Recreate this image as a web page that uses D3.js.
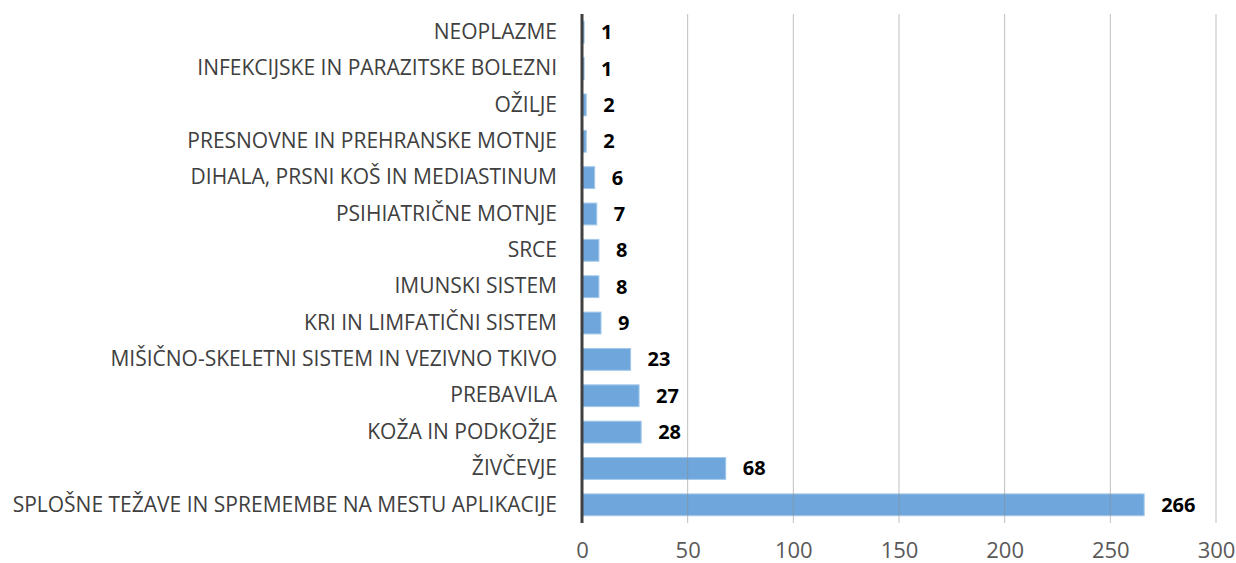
<!DOCTYPE html>
<html>
<head>
<meta charset="utf-8">
<script src="https://cdn.jsdelivr.net/npm/d3@7"></script>
<style>
  body { margin: 0; background: #fff; }
  svg text { font-family: "Open Sans", "DejaVu Sans", sans-serif; }
</style>
</head>
<body>
<div id="chart"></div>
<script>
const categories = [
    "NEOPLAZME",
    "INFEKCIJSKE IN PARAZITSKE BOLEZNI",
    "OŽILJE",
    "PRESNOVNE IN PREHRANSKE MOTNJE",
    "DIHALA, PRSNI KOŠ IN MEDIASTINUM",
    "PSIHIATRIČNE MOTNJE",
    "SRCE",
    "IMUNSKI SISTEM",
    "KRI IN LIMFATIČNI SISTEM",
    "MIŠIČNO-SKELETNI SISTEM IN VEZIVNO TKIVO",
    "PREBAVILA",
    "KOŽA IN PODKOŽJE",
    "ŽIVČEVJE",
    "SPLOŠNE TEŽAVE IN SPREMEMBE NA MESTU APLIKACIJE"
];
const counts = [1, 1, 2, 2, 6, 7, 8, 8, 9, 23, 27, 28, 68, 266];
const xTicks = [0, 50, 100, 150, 200, 250, 300];

const data = categories.map((c, i) => ({ category: c, value: counts[i] }));

const width = 1236, height = 563;
const margin = { top: 14, right: 20, bottom: 40, left: 582 };
const innerW = 1216 - margin.left;
const innerH = 523 - margin.top;

const svg = d3.select("#chart").append("svg")
    .attr("width", width)
    .attr("height", height);

const chart = svg.append("g")
    .attr("transform", `translate(${margin.left},${margin.top})`);

const xScale = d3.scaleLinear().domain([0, 300]).range([0, innerW]);
const yScale = d3.scaleBand().domain(categories).range([0, innerH]).paddingInner(0.4).paddingOuter(0.2);

// bars
chart.selectAll(".bar")
    .data(data)
    .join("rect")
    .attr("class", "bar")
    .attr("x", 0)
    .attr("y", (d) => yScale(d.category))
    .attr("width", (d) => xScale(d.value))
    .attr("height", yScale.bandwidth())
    .attr("fill", "#6fa7dc")
    .attr("stroke", "#a3c8ea")
    .attr("stroke-width", 1);

// vertical gridlines
chart.append("g")
    .selectAll("line")
    .data(xTicks.filter((t) => t > 0))
    .join("line")
    .attr("x1", (d) => xScale(d))
    .attr("x2", (d) => xScale(d))
    .attr("y1", 0)
    .attr("y2", innerH)
    .attr("stroke", "#8c8c8c")
    .attr("stroke-opacity", 0.55)
    .attr("stroke-width", 1);

// x axis labels
const xAxis = chart.append("g")
    .attr("transform", `translate(0,${innerH})`)
    .call(d3.axisBottom(xScale).tickValues(xTicks).tickSize(0).tickPadding(19));
xAxis.select(".domain").remove();
xAxis.selectAll("text")
    .attr("fill", "#595959")
    .style("font-size", "22px");

// y axis labels
const yAxis = chart.append("g")
    .call(d3.axisLeft(yScale).tickSize(0).tickPadding(25));
yAxis.select(".domain").remove();
yAxis.selectAll("text")
    .attr("fill", "#404040")
    .style("font-size", "21px");

// baseline
chart.append("line")
    .attr("x1", xScale(0))
    .attr("x2", xScale(0))
    .attr("y1", 0)
    .attr("y2", innerH)
    .attr("stroke", "#404040")
    .attr("stroke-width", 3);

// value labels
chart.selectAll(".val")
    .data(data)
    .join("text")
    .attr("class", "val")
    .attr("x", (d) => xScale(d.value) + 17)
    .attr("y", (d) => yScale(d.category) + yScale.bandwidth() / 2)
    .attr("dy", "0.35em")
    .attr("fill", "#000")
    .style("font-size", "20px")
    .style("font-weight", "bold")
    .text((d) => d.value);
</script>
</body>
</html>
